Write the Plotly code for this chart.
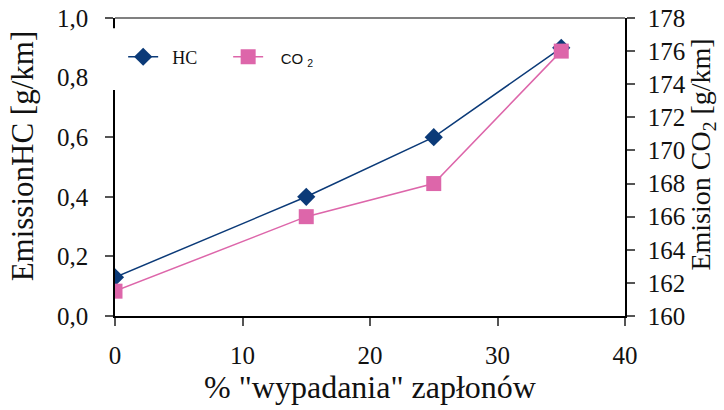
import plotly.graph_objects as go

x_vals = [0, 15, 25, 35]
hc_vals = [0.13, 0.40, 0.60, 0.90]
co2_vals = [161.5, 166.0, 168.0, 176.0]

navy = "#0b3a78"
pink = "#dd66aa"
serif = "Liberation Serif"

fig = go.Figure()
fig.add_trace(go.Scatter(x=x_vals, y=hc_vals, name="&nbsp;&nbsp;HC", mode="lines+markers",
                         line=dict(color=navy, width=1.5),
                         marker=dict(symbol="diamond", size=14, color=navy),
                         yaxis="y"))
fig.add_trace(go.Scatter(x=x_vals, y=co2_vals,
                         name="<span style='font-family:Liberation Sans;font-size:15px'>&nbsp;&nbsp;&nbsp;CO <sub>2</sub></span>",
                         mode="lines+markers",
                         line=dict(color=pink, width=1.5),
                         marker=dict(symbol="square", size=15, color=pink),
                         yaxis="y2"))

fig.update_layout(
    width=724, height=410,
    margin=dict(l=115, r=99, t=18, b=94, autoexpand=False),
    paper_bgcolor="white", plot_bgcolor="white",
    font=dict(family=serif, color="#111111", size=20),
    showlegend=True,
    legend=dict(orientation="h", x=0.016, y=0.869, xanchor="left", yanchor="middle",
                bgcolor="rgba(0,0,0,0)", font=dict(family=serif, size=18),
                entrywidth=60, entrywidthmode="pixels", tracegroupgap=0),
    xaxis=dict(range=[0, 40], dtick=10, showgrid=False, zeroline=False, automargin=False,
               showline=True, linecolor="black", linewidth=1.5,
               ticks="outside", ticklen=8, tickcolor="#555", tickwidth=2,
               tickfont=dict(size=25), ticklabelstandoff=8,
               title=dict(text='% "wypadania" zapłonów', font=dict(size=32), standoff=4)),
    yaxis=dict(range=[0, 1.0], dtick=0.2, tickformat=".1f", showgrid=False, zeroline=False,
               automargin=False,
               showline=True, linecolor="black", linewidth=1.5,
               ticks="outside", ticklen=8, tickcolor="#555", tickwidth=2,
               tickfont=dict(size=25), ticklabelstandoff=12),
    yaxis2=dict(range=[160, 178], dtick=2, overlaying="y", side="right",
                showgrid=False, zeroline=False, automargin=False,
                showline=True, linecolor="black", linewidth=1.5,
                ticks="outside", ticklen=8, tickcolor="#555", tickwidth=2,
                tickfont=dict(size=25), ticklabelstandoff=8),
    separators=",.",
    shapes=[
        dict(type="line", xref="paper", yref="paper", x0=0, x1=1, y0=1, y1=1,
             line=dict(color="#808080", width=2)),
        dict(type="rect", xref="paper", yref="paper", x0=-0.02, x1=0.42, y0=0.758, y1=0.966,
             fillcolor="white", line=dict(width=0), layer="above"),
    ],
    annotations=[
        dict(text="EmissionHC [g/km]", textangle=-90, xref="paper", yref="paper",
             x=-0.1824, y=0.539, xanchor="center", yanchor="middle", showarrow=False,
             font=dict(family=serif, size=31, color="#111111")),
        dict(text="Emision CO<sub>2</sub> [g/km]", textangle=-90, xref="paper", yref="paper",
             x=1.152, y=0.54, xanchor="center", yanchor="middle", showarrow=False,
             font=dict(family=serif, size=28, color="#111111")),
    ],
)

fig.write_html("out.html")
